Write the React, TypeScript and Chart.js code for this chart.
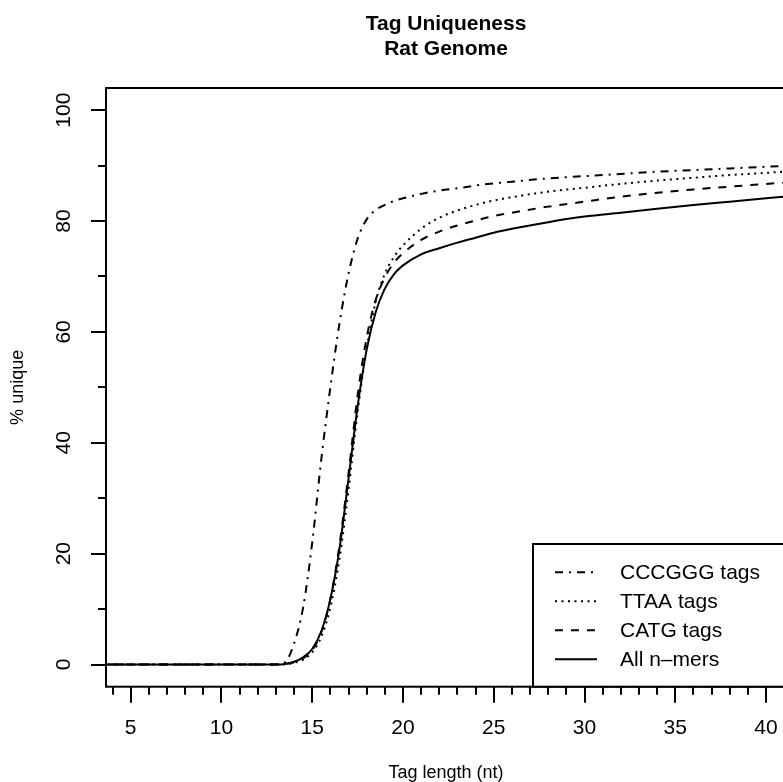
import React, { useEffect, useRef } from "react";
import { Chart, registerables } from "chart.js";

Chart.register(...registerables);

// ---- data ----
const tagLength = [3, 4, 5, 6, 7, 8, 9, 10, 11, 12, 13, 13.5, 14, 14.5, 15, 15.5, 16, 16.5, 17, 17.5, 18, 18.5, 19, 19.5, 20, 21, 22, 23, 24, 25, 26, 28, 30, 32, 34, 36, 38, 40, 42];
const cccgggTags = [0, 0, 0, 0, 0, 0, 0, 0, 0, 0, 0, 0.4, 3.8, 10.3, 22.0, 37.0, 50.0, 61.5, 70.5, 76.8, 80.3, 82.0, 82.9, 83.6, 84.1, 84.9, 85.5, 85.9, 86.4, 86.8, 87.1, 87.7, 88.1, 88.5, 88.9, 89.2, 89.5, 89.8, 90.1];
const ttaaTags = [0, 0, 0, 0, 0, 0, 0, 0, 0, 0, 0, 0.05, 0.3, 0.9, 2.2, 5.0, 10.3, 19.0, 31.5, 45.5, 57.0, 65.5, 70.5, 73.5, 75.6, 78.6, 80.6, 81.9, 82.9, 83.7, 84.3, 85.3, 86.0, 86.7, 87.3, 87.8, 88.3, 88.7, 89.1];
const catgTags = [0, 0, 0, 0, 0, 0, 0, 0, 0, 0, 0, 0.1, 0.4, 1.1, 2.6, 5.8, 11.8, 21.5, 34.5, 48.5, 59.0, 65.8, 69.8, 72.5, 74.2, 76.6, 78.1, 79.2, 80.1, 80.9, 81.5, 82.6, 83.5, 84.4, 85.1, 85.7, 86.2, 86.7, 87.1];
const allNmers = [0, 0, 0, 0, 0, 0, 0, 0, 0, 0, 0, 0.1, 0.5, 1.3, 2.8, 6.0, 11.8, 20.8, 33.5, 46.5, 56.8, 63.6, 67.8, 70.4, 72.0, 74.0, 75.1, 76.1, 77.0, 77.9, 78.6, 79.8, 80.8, 81.5, 82.2, 82.9, 83.5, 84.1, 84.7];
const seriesLabels = ["CCCGGG tags", "TTAA tags", "CATG tags", "All n\u2013mers"];
const xTickValues = [5, 10, 15, 20, 25, 30, 35, 40];
const yTickValues = [0, 20, 40, 60, 80, 100];
const chartTitle = ["Tag Uniqueness", "Rat Genome"];
const xTitle = "Tag length (nt)";
const yTitle = "% unique";

// ---- styles ----
const FONT = "'Liberation Sans', Arial, Helvetica, sans-serif";
const DASHES = [[8, 6, 2, 6], [2, 4.5], [8, 8], []];
const CANVAS_W = 830;

const framePlugin = {
  id: "rFrame",
  afterDatasetsDraw(chart: any) {
    const { ctx, chartArea: a, scales } = chart;
    const xs = scales.x;
    const ys = scales.y;
    ctx.save();
    ctx.strokeStyle = "#000";
    ctx.lineWidth = 2;
    ctx.setLineDash([]);
    ctx.strokeRect(a.left, a.top, a.right - a.left, a.bottom - a.top);
    ctx.beginPath();
    for (let v = Math.ceil(xs.min); v <= Math.floor(xs.max); v++) {
      const px = Math.round(xs.getPixelForValue(v));
      const len = v % 5 === 0 ? 16 : 8;
      ctx.moveTo(px, a.bottom);
      ctx.lineTo(px, a.bottom + len);
    }
    for (let v = 0; v <= 100; v += 10) {
      const py = Math.round(ys.getPixelForValue(v));
      const len = v % 20 === 0 ? 15 : 8;
      ctx.moveTo(a.left, py);
      ctx.lineTo(a.left - len, py);
    }
    ctx.stroke();

    // legend (bottom-right, R style)
    const lw = 253;
    const lh = 142.7;
    const lx = a.right - lw;
    const ly = a.bottom - lh;
    ctx.fillStyle = "#fff";
    ctx.fillRect(lx, ly, lw, lh);
    ctx.strokeRect(lx, ly, lw, lh);
    ctx.font = `21px ${FONT}`;
    ctx.fillStyle = "#000";
    ctx.textAlign = "left";
    ctx.textBaseline = "middle";
    chart.data.datasets.forEach((ds: any, i: number) => {
      const y = ly + 28.3 + i * 29;
      ctx.beginPath();
      ctx.setLineDash(ds.borderDash || []);
      ctx.lineWidth = 2;
      ctx.moveTo(lx + 22, y);
      ctx.lineTo(lx + 64, y);
      ctx.stroke();
      ctx.setLineDash([]);
      ctx.fillText(ds.label, lx + 87, y + 1);
    });
    ctx.restore();
  },
};

export default function App() {
  const ref = useRef<HTMLCanvasElement | null>(null);
  useEffect(() => {
    if (!ref.current) return;
    const series = [cccgggTags, ttaaTags, catgTags, allNmers];
    const chart = new Chart(ref.current, {
      type: "line",
      data: {
        datasets: series.map((s, i) => ({
          label: seriesLabels[i],
          data: tagLength.map((x, j) => ({ x, y: s[j] })),
          borderColor: "#000",
          backgroundColor: "#000",
          borderWidth: 2,
          borderDash: DASHES[i],
          pointRadius: 0,
          fill: false,
          cubicInterpolationMode: "monotone",
        })),
      },
      options: {
        animation: false,
        responsive: false,
        devicePixelRatio: 1,
        layout: { padding: { left: 0, right: CANVAS_W - 786, top: 0, bottom: 0 } },
        plugins: {
          legend: { display: false },
          tooltip: { enabled: false },
          title: {
            display: true,
            fullSize: false,
            text: chartTitle,
            color: "#000",
            font: { family: FONT, size: 21, weight: "bold", lineHeight: 25 / 21 },
            padding: { top: 11.5, bottom: 26.5 },
          },
        },
        scales: {
          x: {
            type: "linear",
            min: 3.64,
            max: 41.1,
            afterBuildTicks: (s: any) => {
              s.ticks = xTickValues.map((v) => ({ value: v }));
            },
            afterFit: (s: any) => {
              s.height = 95.3;
            },
            grid: { display: false, drawTicks: false },
            border: { display: false },
            ticks: {
              color: "#000",
              font: { family: FONT, size: 21, lineHeight: 1 },
              padding: 30.8,
              maxRotation: 0,
              autoSkip: false,
              callback: (v: any) => String(v),
            },
            title: {
              display: true,
              text: xTitle,
              color: "#000",
              font: { family: FONT, size: 18, lineHeight: 1 },
              padding: { top: 0, bottom: 0 },
            },
          },
          y: {
            type: "linear",
            min: -4,
            max: 104,
            afterBuildTicks: (s: any) => {
              s.ticks = yTickValues.map((v) => ({ value: v }));
            },
            afterFit: (s: any) => {
              s.width = 106;
            },
            grid: { display: false, drawTicks: false },
            border: { display: false },
            ticks: {
              color: "#000",
              font: { family: FONT, size: 21, lineHeight: 1 },
              padding: 24.5,
              minRotation: 90,
              maxRotation: 90,
              crossAlign: "center",
              autoSkip: false,
              callback: (v: any) => String(v),
            },
            title: {
              display: true,
              text: yTitle,
              color: "#000",
              font: { family: FONT, size: 18, lineHeight: 1 },
              padding: { top: 9, bottom: 0 },
            },
          },
        },
      },
      plugins: [framePlugin],
    } as any);
    return () => chart.destroy();
  }, []);

  return (
    <div
      style={{
        position: "fixed",
        left: 0,
        top: 0,
        width: 783,
        height: 782,
        overflow: "hidden",
        background: "#fff",
      }}
    >
      <canvas ref={ref} width={CANVAS_W} height={782} style={{ width: CANVAS_W, height: 782, display: "block" }} />
    </div>
  );
}
